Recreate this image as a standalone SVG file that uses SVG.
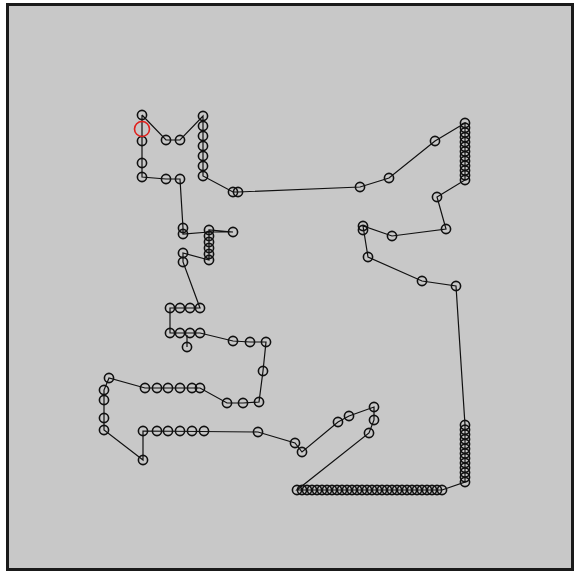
<svg xmlns="http://www.w3.org/2000/svg" xmlns:xlink="http://www.w3.org/1999/xlink" width="576" height="573" viewBox="0 0 576 573">
<style>
.c{fill:none;stroke:#111;stroke-width:1.6}
.e{fill:none;stroke:#111;stroke-width:1.2}
</style>
<defs><circle id="c" r="4.6" class="c"/></defs>
<rect x="0" y="0" width="576" height="573" fill="#fff"/>
<rect x="7.5" y="4.5" width="565" height="565" fill="#c8c8c8" stroke="#1a1a1a" stroke-width="3"/>
<g id="connectors">
<polyline class="e" points="142,115 166,140 180,140 203,116 203,176 233,192 238,192 360,187 389,178 435,141 465,123 465,180 437,197 446,229 392,236 363,226 368,257 422,281 456,286 465,425 465,482 442,490 297,490 369,433 374,420 374,407 349,416 338,422 302,452 295,443 258,432 143,431 143,460 104,430 104,418 104,400 104,390 109,378 145,388 200,388 227,403 243,403 259,402 263,371 266,342 250,342 233,341 200,333 170,333 170,308 200,308 183,262 183,253 209,260 209,230 233,232 209,232 183,234 183,228 180,179 166,179 142,177 142,163 142,141 142,115"/>
<line class="e" x1="187" y1="347" x2="187" y2="335"/>
</g>
<g id="nodes">
<g id="n-topleft">
<use href="#c" x="142" y="115"/><use href="#c" x="142" y="141"/><use href="#c" x="142" y="163"/><use href="#c" x="142" y="177"/>
<use href="#c" x="166" y="140"/><use href="#c" x="180" y="140"/><use href="#c" x="166" y="179"/><use href="#c" x="180" y="179"/>
<use href="#c" x="203" y="116"/><use href="#c" x="203" y="126"/><use href="#c" x="203" y="136"/><use href="#c" x="203" y="146"/><use href="#c" x="203" y="156"/><use href="#c" x="203" y="166"/><use href="#c" x="203" y="176"/>
<use href="#c" x="233" y="192"/><use href="#c" x="238" y="192"/>
</g>
<g id="n-mid">
<use href="#c" x="183" y="228"/><use href="#c" x="183" y="234"/><use href="#c" x="183" y="253"/><use href="#c" x="183" y="262"/>
<use href="#c" x="209" y="230"/><use href="#c" x="209" y="236"/><use href="#c" x="209" y="242"/><use href="#c" x="209" y="248"/><use href="#c" x="209" y="254"/><use href="#c" x="209" y="260"/>
<use href="#c" x="233" y="232"/>
<use href="#c" x="170" y="308"/><use href="#c" x="180" y="308"/><use href="#c" x="190" y="308"/><use href="#c" x="200" y="308"/>
<use href="#c" x="170" y="333"/><use href="#c" x="180" y="333"/><use href="#c" x="190" y="333"/><use href="#c" x="200" y="333"/><use href="#c" x="187" y="347"/>
<use href="#c" x="233" y="341"/><use href="#c" x="250" y="342"/><use href="#c" x="266" y="342"/><use href="#c" x="263" y="371"/>
</g>
<g id="n-lowleft">
<use href="#c" x="109" y="378"/><use href="#c" x="104" y="390"/><use href="#c" x="104" y="400"/><use href="#c" x="104" y="418"/><use href="#c" x="104" y="430"/>
<use href="#c" x="145" y="388"/><use href="#c" x="157" y="388"/><use href="#c" x="168" y="388"/><use href="#c" x="180" y="388"/><use href="#c" x="192" y="388"/><use href="#c" x="200" y="388"/>
<use href="#c" x="227" y="403"/><use href="#c" x="243" y="403"/><use href="#c" x="259" y="402"/>
<use href="#c" x="143" y="431"/><use href="#c" x="157" y="431"/><use href="#c" x="168" y="431"/><use href="#c" x="180" y="431"/><use href="#c" x="192" y="431"/><use href="#c" x="204" y="431"/>
<use href="#c" x="143" y="460"/><use href="#c" x="258" y="432"/>
</g>
<g id="n-lowright">
<use href="#c" x="295" y="443"/><use href="#c" x="302" y="452"/><use href="#c" x="338" y="422"/><use href="#c" x="349" y="416"/>
<use href="#c" x="374" y="407"/><use href="#c" x="374" y="420"/><use href="#c" x="369" y="433"/>
<use href="#c" x="297" y="490"/><use href="#c" x="302" y="490"/><use href="#c" x="307" y="490"/><use href="#c" x="312" y="490"/><use href="#c" x="317" y="490"/><use href="#c" x="322" y="490"/><use href="#c" x="327" y="490"/><use href="#c" x="332" y="490"/><use href="#c" x="337" y="490"/><use href="#c" x="342" y="490"/><use href="#c" x="347" y="490"/><use href="#c" x="352" y="490"/><use href="#c" x="357" y="490"/><use href="#c" x="362" y="490"/><use href="#c" x="367" y="490"/><use href="#c" x="372" y="490"/><use href="#c" x="377" y="490"/><use href="#c" x="382" y="490"/><use href="#c" x="387" y="490"/><use href="#c" x="392" y="490"/><use href="#c" x="397" y="490"/><use href="#c" x="402" y="490"/><use href="#c" x="407" y="490"/><use href="#c" x="412" y="490"/><use href="#c" x="417" y="490"/><use href="#c" x="422" y="490"/><use href="#c" x="427" y="490"/><use href="#c" x="432" y="490"/><use href="#c" x="437" y="490"/><use href="#c" x="442" y="490"/>
<use href="#c" x="465" y="425"/><use href="#c" x="465" y="429.75"/><use href="#c" x="465" y="434.5"/><use href="#c" x="465" y="439.25"/><use href="#c" x="465" y="444"/><use href="#c" x="465" y="448.75"/><use href="#c" x="465" y="453.5"/><use href="#c" x="465" y="458.25"/><use href="#c" x="465" y="463"/><use href="#c" x="465" y="467.75"/><use href="#c" x="465" y="472.5"/><use href="#c" x="465" y="477.25"/><use href="#c" x="465" y="482"/>
</g>
<g id="n-right">
<use href="#c" x="360" y="187"/><use href="#c" x="389" y="178"/><use href="#c" x="435" y="141"/>
<use href="#c" x="465" y="123"/><use href="#c" x="465" y="127.75"/><use href="#c" x="465" y="132.5"/><use href="#c" x="465" y="137.25"/><use href="#c" x="465" y="142"/><use href="#c" x="465" y="146.75"/><use href="#c" x="465" y="151.5"/><use href="#c" x="465" y="156.25"/><use href="#c" x="465" y="161"/><use href="#c" x="465" y="165.75"/><use href="#c" x="465" y="170.5"/><use href="#c" x="465" y="175.25"/><use href="#c" x="465" y="180"/>
<use href="#c" x="437" y="197"/><use href="#c" x="446" y="229"/><use href="#c" x="392" y="236"/><use href="#c" x="363" y="226"/><use href="#c" x="363" y="230"/><use href="#c" x="368" y="257"/><use href="#c" x="422" y="281"/><use href="#c" x="456" y="286"/>
</g>
<g id="start">
<circle cx="142" cy="129" r="7.5" fill="none" stroke="#e0201c" stroke-width="1.6"/>
</g>
</g>
</svg>
